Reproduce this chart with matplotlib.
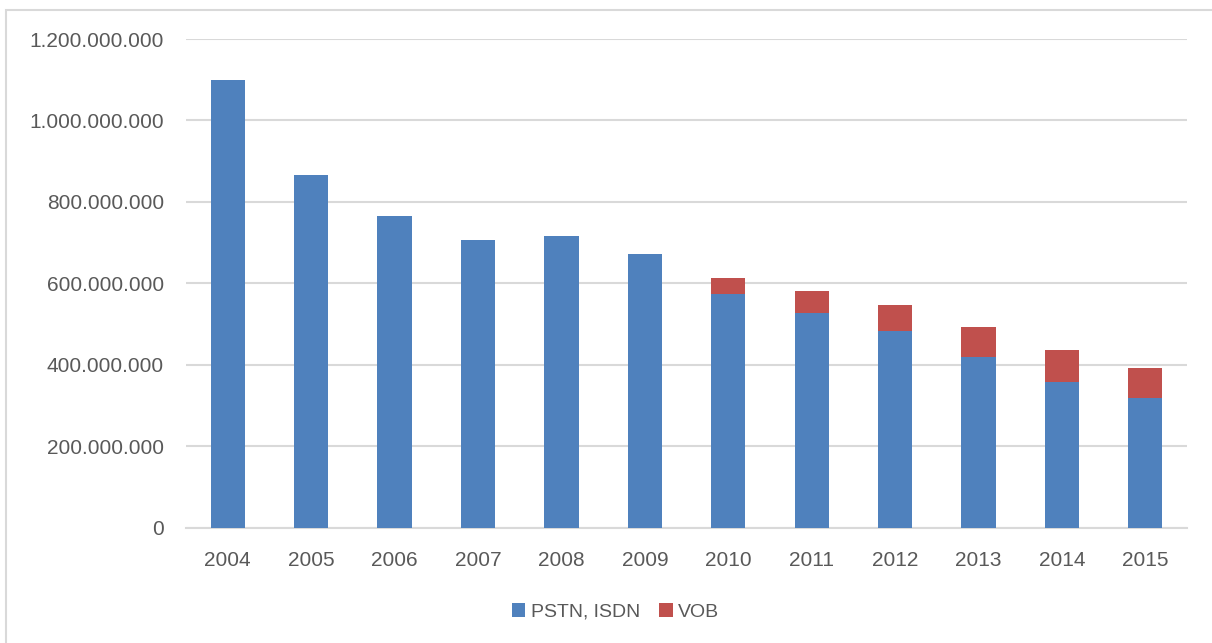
import matplotlib
matplotlib.use("Agg")
import matplotlib.pyplot as plt
from matplotlib.patches import Rectangle
from matplotlib.ticker import FuncFormatter, MultipleLocator

years = ["2004", "2005", "2006", "2007", "2008", "2009",
         "2010", "2011", "2012", "2013", "2014", "2015"]
pstn_isdn = [1100e6, 865e6, 765e6, 706e6, 716e6, 672e6,
             573e6, 527e6, 482e6, 420e6, 358e6, 319e6]
vob = [0, 0, 0, 0, 0, 0,
       39e6, 53e6, 64e6, 72e6, 78e6, 73e6]

plt.rcParams['font.family'] = ['Liberation Sans', 'DejaVu Sans']
text_col = "#595959"
grid_col = "#d9d9d9"

fig = plt.figure(figsize=(12.12, 6.43), dpi=100)
ax = fig.add_axes([0.1535, 0.1796, 0.8259, 0.7597])

x = range(len(years))
ax.bar(x, pstn_isdn, width=0.41, color="#4F81BD", label="PSTN, ISDN", zorder=3)
ax.bar(x, vob, width=0.41, bottom=pstn_isdn, color="#C0504D", label="VOB", zorder=3)

ax.set_xlim(-0.5, len(years) - 0.5)
ax.set_ylim(0, 1.2e9)
ax.yaxis.set_major_locator(MultipleLocator(2e8))
ax.yaxis.set_major_formatter(FuncFormatter(lambda v, p: f"{int(v):,}".replace(",", ".")))
ax.set_xticks(list(x))
ax.set_xticklabels(years)

ax.grid(axis="y", color=grid_col, linewidth=1.5, zorder=0)
for s in ["top", "right", "left"]:
    ax.spines[s].set_visible(False)
ax.spines["bottom"].set_color(grid_col)
ax.spines["bottom"].set_linewidth(1.5)
ax.tick_params(length=0, labelsize=15, labelcolor=text_col)
ax.tick_params(axis="y", pad=16)
ax.tick_params(axis="x", pad=17)

fig.legend(loc="center", bbox_to_anchor=(0.508, 0.048), ncol=2, frameon=False,
           fontsize=14, labelcolor=text_col, handlelength=0.67, handleheight=0.67,
           handletextpad=0.3, columnspacing=1.0)

# outer chart border
fig.patches.append(Rectangle((0.005, -0.5), 2, 0.9844 + 0.5, transform=fig.transFigure,
                             fill=False, edgecolor=grid_col, linewidth=1.5))

fig.savefig("out.png", dpi=100)
